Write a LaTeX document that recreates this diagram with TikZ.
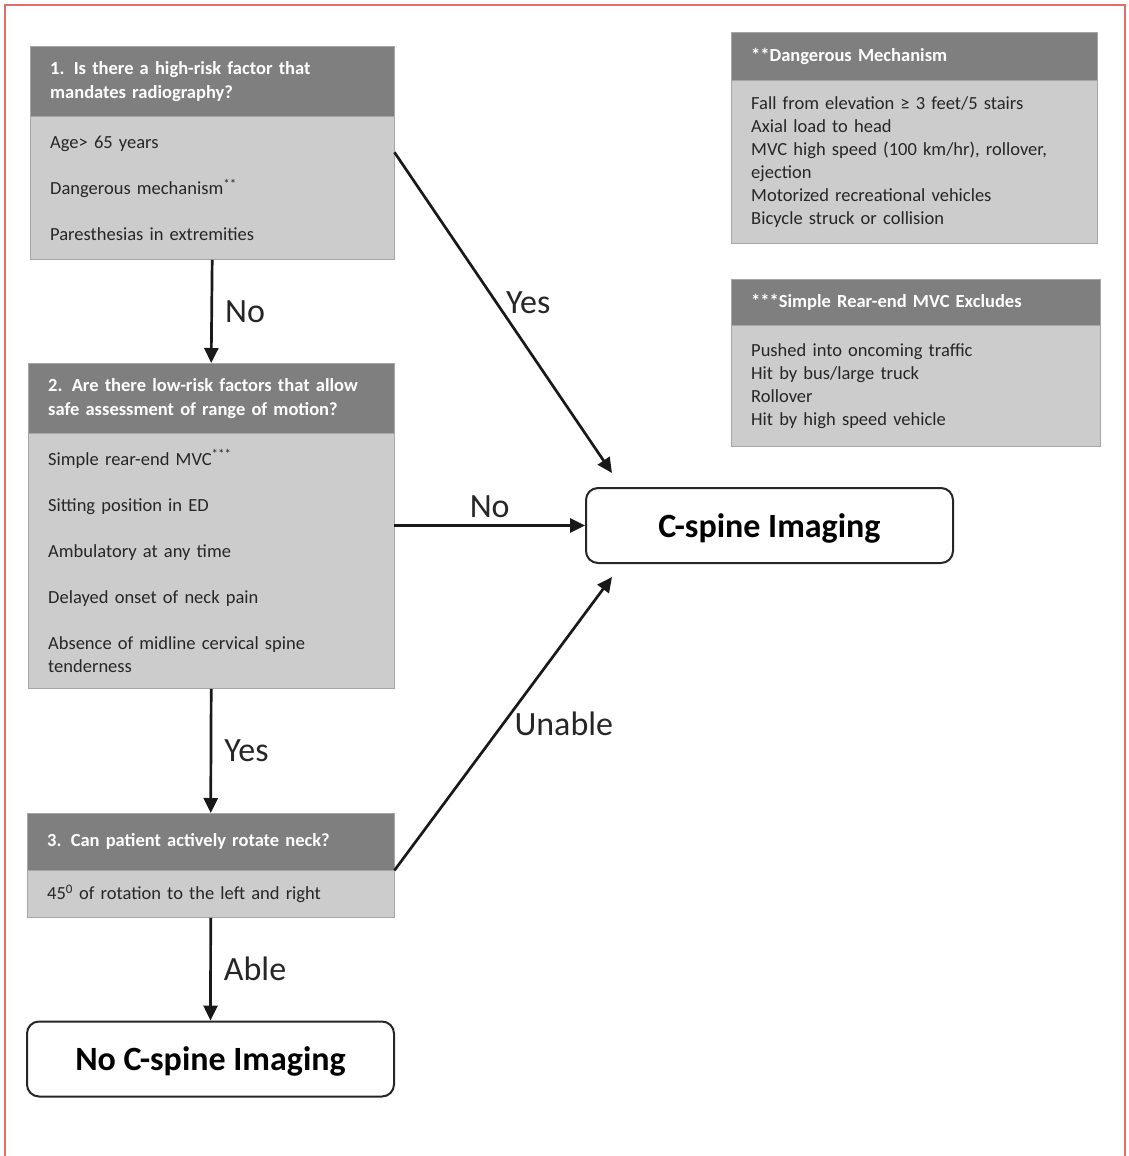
\documentclass[tikz,border=0pt]{standalone}
\usepackage{fontspec}
\setmainfont{Carlito}
\usetikzlibrary{arrows.meta, calc, positioning}
\definecolor{hdrgray}{HTML}{7F7F7F}
\definecolor{bodygray}{HTML}{CCCCCC}
\definecolor{edgegray}{HTML}{A6A6A6}
\definecolor{framered}{HTML}{E46C6C}
\tikzstyle{hdr}=[rectangle, draw=edgegray, fill=hdrgray, text=white, font=\bfseries\fontsize{18.5}{24}\selectfont, align=left, inner xsep=20pt, inner ysep=0pt, anchor=north west]
\tikzstyle{body}=[rectangle, draw=edgegray, fill=bodygray, text=black!85, font=\fontsize{18.5}{23}\selectfont, align=left, inner xsep=20pt, inner ysep=0pt]
\tikzstyle{result}=[rectangle, rounded corners=12pt, draw=black!85, line width=2pt, fill=white, font=\bfseries\fontsize{34}{40}\selectfont, text depth=0pt, minimum width=367pt, minimum height=75pt]
\tikzstyle{lbl}=[font=\fontsize{34}{40}\selectfont, inner sep=2pt, text=black!85]
\tikzstyle{flow}=[->, line width=2.7pt, color=black!90]

\begin{document}
\begin{tikzpicture}[x=1pt, y=-1pt, >={Triangle[length=15pt,width=14pt]}]
  \useasboundingbox (0,0) rectangle (1128,1156);
  \draw[framered, line width=2pt] (5,1156) -- (5,5) -- (1125,5) -- (1125,1156);

  % question boxes
  \node[hdr, text width=324pt, minimum height=70pt] (hdr1) at (30,46) {1. Is there a high-risk factor that\\ mandates radiography?};
  \node[body, text width=324pt, minimum height=143pt] (body1) [below=0pt of hdr1] {Age> 65 years\\[23pt] Dangerous mechanism\textsuperscript{**}\\[23pt] Paresthesias in extremities};
  \node[hdr, text width=326pt, minimum height=70pt] (hdr2) at (28,363) {2. Are there low-risk factors that allow\\ safe assessment of range of motion?};
  \node[body, text width=326pt, minimum height=255pt] (body2) [below=0pt of hdr2] {Simple rear-end MVC\textsuperscript{***}\\[23pt] Sitting position in ED\\[23pt] Ambulatory at any time\\[23pt] Delayed onset of neck pain\\[23pt] Absence of midline cervical spine\\ tenderness};
  \node[hdr, text width=327pt, minimum height=57pt] (hdr3) at (27,813) {3. Can patient actively rotate neck?};
  \node[body, text width=327pt, minimum height=47pt] (body3) [below=0pt of hdr3] {45\textsuperscript{0} of rotation to the left and right};

  % notes
  \node[hdr, text width=326pt, minimum height=48pt] (hdrdanger) at (731,32) {**Dangerous Mechanism};
  \node[body, text width=326pt, minimum height=163pt] (bodydanger) [below=0pt of hdrdanger] {Fall from elevation ≥ 3 feet/5 stairs\\ Axial load to head\\ MVC high speed (100 km/hr), rollover,\\ ejection\\ Motorized recreational vehicles\\ Bicycle struck or collision};
  \node[hdr, text width=329pt, minimum height=46pt] (hdrrear) at (731,279) {***Simple Rear-end MVC Excludes};
  \node[body, text width=329pt, minimum height=121pt] (bodyrear) [below=0pt of hdrrear] {Pushed into oncoming traffic\\ Hit by bus/large truck\\ Rollover\\ Hit by high speed vehicle};

  % outcomes
  \node[result] (cspine) at (769.5,525.5) {C-spine Imaging};
  \node[result] (nocspine) at (210.5,1059) {No C-spine Imaging};
  \coordinate (yestip) at (612,473);
  \coordinate (unabletip) at (612,577);

  \path[flow] (body1.south) edge node[lbl, right=10pt] {No} (hdr2.north);
  \path[flow] ($(body1.north east)!0.25!(body1.south east)$) edge node[lbl, pos=.47, right=6pt] {Yes} (yestip);
  \path[flow] (body2.east |- cspine.west) edge node[lbl, above=4pt] {No} (cspine.west);
  \path[flow] (body2.south) edge node[lbl, right=10pt] {Yes} (hdr3.north);
  \path[flow] (hdr3.south east) edge node[lbl, right=8pt] {Unable} (unabletip);
  \path[flow] (body3.south) edge node[lbl, right=10pt] {Able} (nocspine.north);
\end{tikzpicture}
\end{document}
